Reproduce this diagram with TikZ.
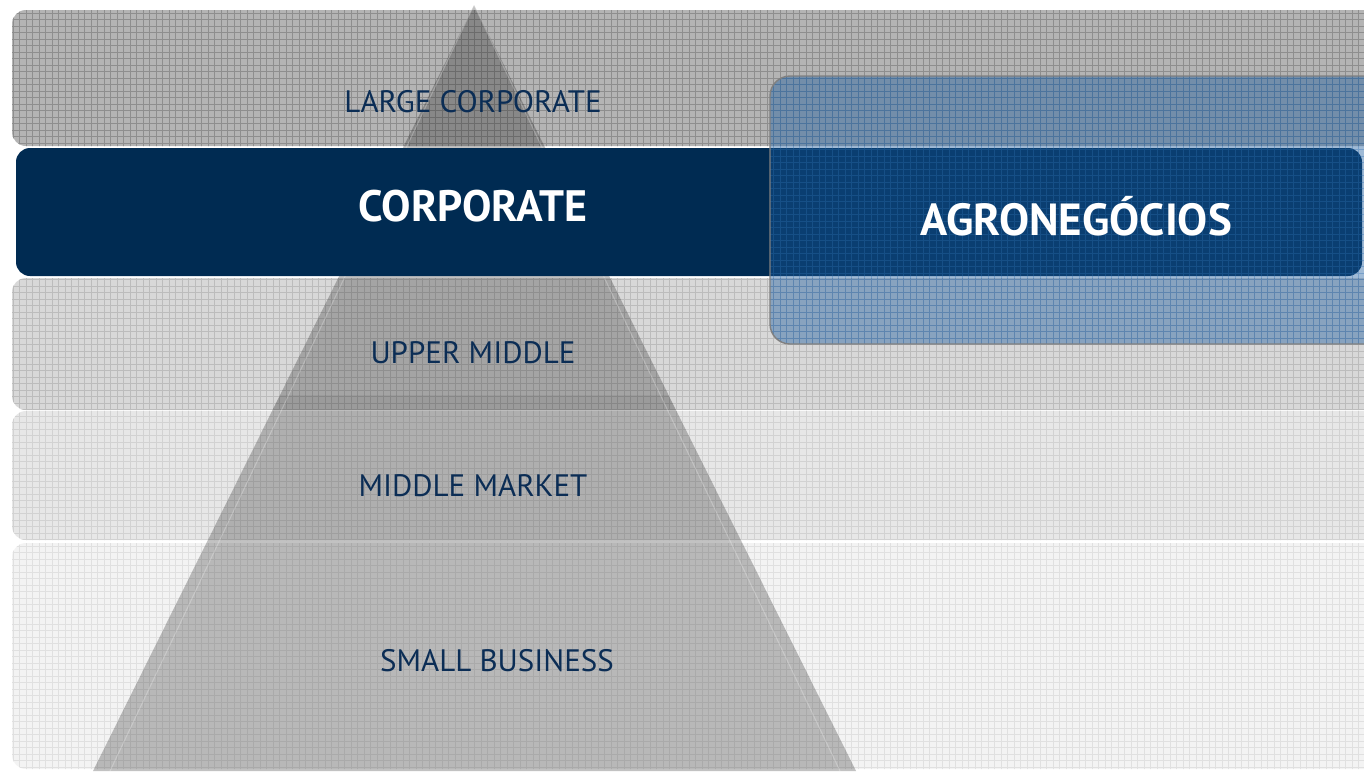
\documentclass[tikz,border=0pt]{standalone}
\usepackage{fontspec}
\setmainfont{PT Sans}
\definecolor{bandA}{HTML}{B4B4B4}
\definecolor{bandB}{HTML}{D8D8D8}
\definecolor{bandC}{HTML}{E7E7E7}
\definecolor{bandD}{HTML}{F3F3F3}
\definecolor{gridA}{HTML}{8E8E8E}
\definecolor{gridB}{HTML}{BCBCBC}
\definecolor{gridC}{HTML}{D2D2D2}
\definecolor{gridD}{HTML}{E0E0E0}
\definecolor{corpnavy}{HTML}{002B52}
\definecolor{agroblue}{HTML}{1A5A9E}
\definecolor{agrogrid}{HTML}{2F6FB0}
\definecolor{txtnavy}{HTML}{0B2D55}
\begin{document}
\begin{tikzpicture}[x=1pt,y=-1pt,
  bandshape/.style={rounded corners=14pt},
  gridlines/.style={line width=0.5pt},
  lbl/.style={text=txtnavy, font=\fontsize{31}{34}\selectfont, inner sep=0pt},
  biglbl/.style={text=white, font=\bfseries\fontsize{44}{48}\selectfont, inner sep=0pt}]
\useasboundingbox (0,0) rectangle (1364,771);
\begin{scope}
\clip (0,0) rectangle (1364,771);
% band 1
\begin{scope}
  \clip[bandshape] (12,10) rectangle (1420,146);
  \fill[bandA] (0,0) rectangle (1364,771);
  \draw[gridlines, gridA, step=6.5pt] (0,0) grid (1364,771);
\end{scope}
% band 3
\begin{scope}
  \clip[bandshape] (12,278) rectangle (1420,410);
  \fill[bandB] (0,0) rectangle (1364,771);
  \draw[gridlines, gridB, step=6.5pt] (0,0) grid (1364,771);
\end{scope}
% band 4
\begin{scope}
  \clip[bandshape] (12,411) rectangle (1420,540);
  \fill[bandC] (0,0) rectangle (1364,771);
  \draw[gridlines, gridC, step=6.5pt] (0,0) grid (1364,771);
\end{scope}
% band 5
\begin{scope}
  \clip[bandshape] (12,543) rectangle (1420,769);
  \fill[bandD] (0,0) rectangle (1364,771);
  \draw[gridlines, gridD, step=6.5pt] (0,0) grid (1364,771);
\end{scope}
% pyramid
\fill[black, opacity=0.24] (474,5) -- (856,771) -- (93,771) -- cycle;
\begin{scope}
  \clip (474,5) -- (856,771) -- (93,771) -- cycle;
  \fill[black, opacity=0.05] (0,395) rectangle (1364,410);
\end{scope}
\draw[white, opacity=0.25, line width=1pt] (474,5) -- (840,771);
\draw[white, opacity=0.25, line width=1pt] (474,5) -- (110,771);
% corporate band
\fill[corpnavy, rounded corners=14pt] (16,148) rectangle (1362,276);
% agronegocios box
\begin{scope}
  \clip[rounded corners=20pt] (770,76) rectangle (1392,344);
  \fill[agroblue, opacity=0.42] (700,0) rectangle (1364,400);
  \draw[gridlines, agrogrid, opacity=0.35, step=6.5pt] (700,0) grid (1364,400);
\end{scope}
\draw[gray, line width=1.4pt, rounded corners=20pt] (770,76) rectangle (1392,344);
\end{scope}
% labels
\node[lbl] (large) at (473,102) {LARGE CORPORATE};
\node[biglbl] (corp) at (473,206) {CORPORATE};
\node[biglbl, font=\bfseries\fontsize{45}{48}\selectfont] (agro) at (1076,216) {AGRONEGÓCIOS};
\node[lbl] (upper) at (473,353) {UPPER MIDDLE};
\node[lbl] (middle) at (473,486) {MIDDLE MARKET};
\node[lbl] (small) at (497,661) {SMALL BUSINESS};
\end{tikzpicture}
\end{document}
